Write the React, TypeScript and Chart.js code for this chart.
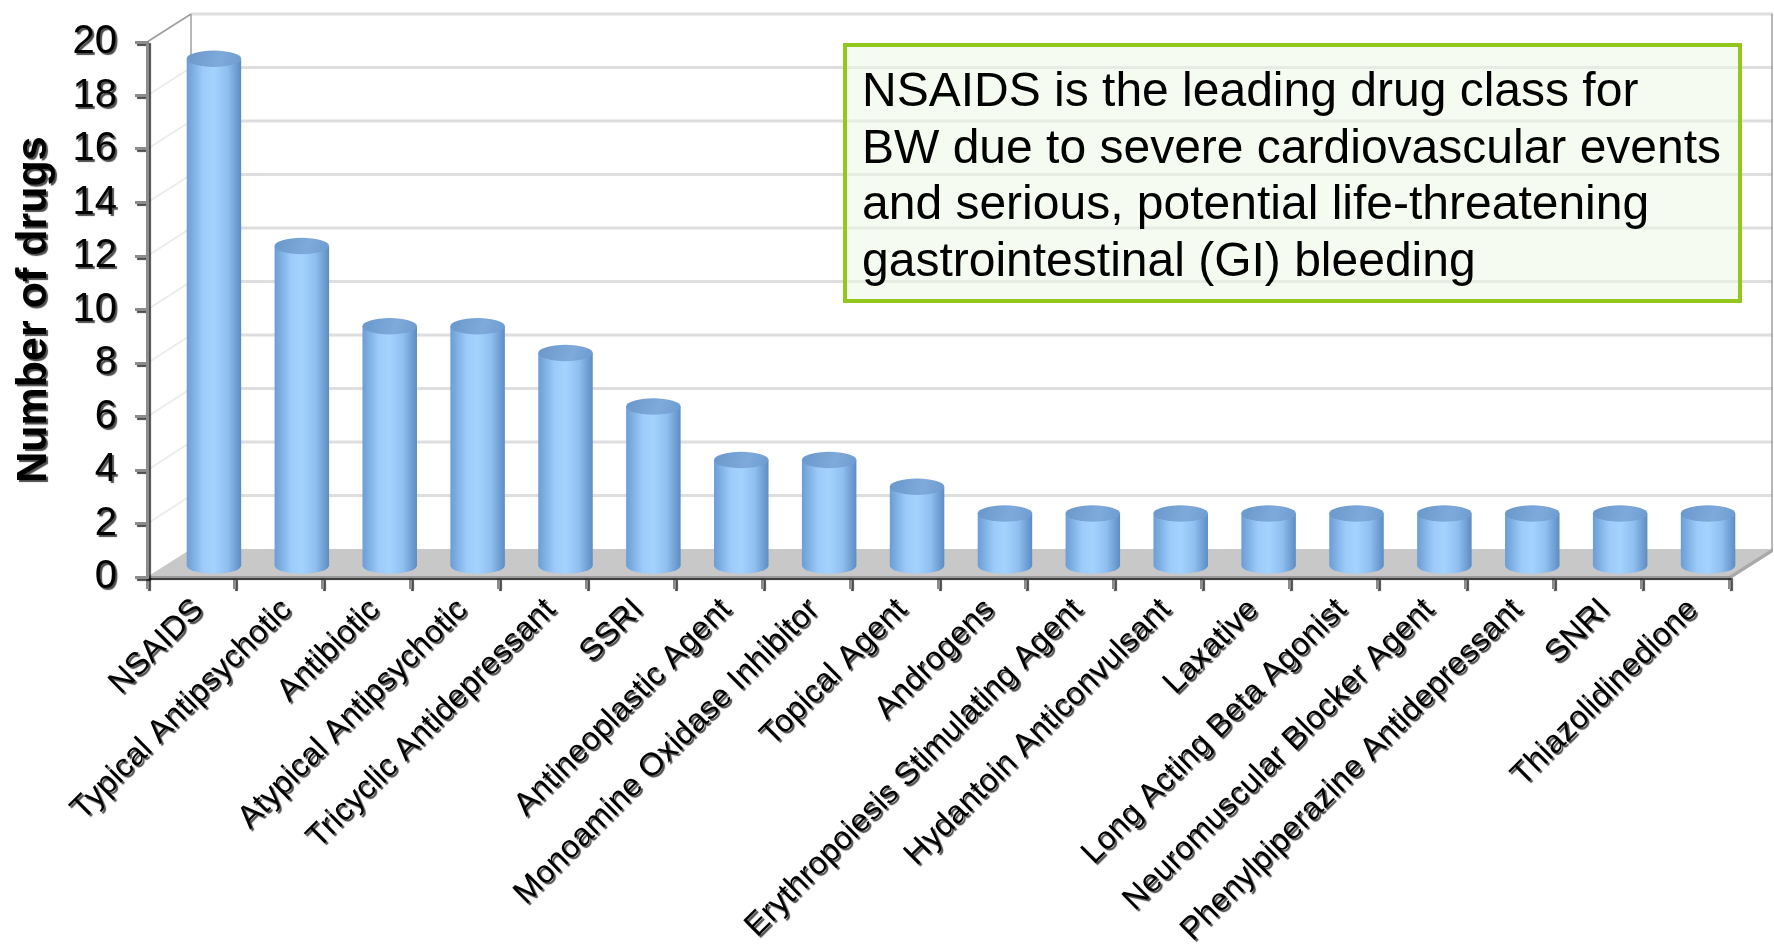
import React, { useEffect, useRef } from 'react';
import { Chart, registerables } from 'chart.js';

Chart.register(...registerables);

const categories = [
  'NSAIDS',
  'Typical Antipsychotic',
  'Antibiotic',
  'Atypical Antipsychotic',
  'Tricyclic Antidepressant',
  'SSRI',
  'Antineoplastic Agent',
  'Monoamine Oxidase Inhibitor',
  'Topical Agent',
  'Androgens',
  'Erythropoiesis Stimulating Agent',
  'Hydantoin Anticonvulsant',
  'Laxative',
  'Long Acting Beta Agonist',
  'Neuromuscular Blocker Agent',
  'Phenylpiperazine Antidepressant',
  'SNRI',
  'Thiazolidinedione',
];

const drugCounts = [19, 12, 9, 9, 8, 6, 4, 4, 3, 2, 2, 2, 2, 2, 2, 2, 2, 2];

const yTickValues = [0, 2, 4, 6, 8, 10, 12, 14, 16, 18, 20];
const yAxisTitle = 'Number of drugs';

const noteLines = [
  'NSAIDS is the leading drug class for',
  'BW due to severe cardiovascular events',
  'and serious, potential life-threatening',
  'gastrointestinal (GI) bleeding',
];

// 3D depth offsets (px)
const WALL_DX = 44;
const WALL_DY = -28;
const BAR_DX = 23;
const BAR_DY = -10;

const FONT = '"Liberation Sans", Arial, sans-serif';

const wallsPlugin = {
  id: 'walls3d',
  beforeDraw(chart: any) {
    const { ctx, chartArea: a, scales } = chart;
    const y = scales.y;
    ctx.save();
    yTickValues.forEach((v) => {
      const py = y.getPixelForValue(v);
      if (v > 0) {
        ctx.strokeStyle = '#dedede';
        ctx.lineWidth = 3;
        ctx.beginPath();
        ctx.moveTo(a.left + WALL_DX, py + WALL_DY);
        ctx.lineTo(a.right + WALL_DX, py + WALL_DY);
        ctx.stroke();
        ctx.strokeStyle = '#ececec';
        ctx.lineWidth = 2;
        ctx.beginPath();
        ctx.moveTo(a.left + 2, py - 1);
        ctx.lineTo(a.left + WALL_DX, py + WALL_DY);
        ctx.stroke();
      }
    });
    // floor
    ctx.fillStyle = '#c8c8c8';
    ctx.beginPath();
    ctx.moveTo(a.left, a.bottom);
    ctx.lineTo(a.right, a.bottom);
    ctx.lineTo(a.right + WALL_DX, a.bottom + WALL_DY);
    ctx.lineTo(a.left + WALL_DX, a.bottom + WALL_DY);
    ctx.closePath();
    ctx.fill();
    // floor front slab
    ctx.fillStyle = '#a9a9a9';
    ctx.fillRect(a.left, a.bottom - 1, a.right - a.left, 4);
    ctx.beginPath();
    ctx.moveTo(a.right, a.bottom - 1);
    ctx.lineTo(a.right + WALL_DX, a.bottom + WALL_DY - 1);
    ctx.lineTo(a.right + WALL_DX, a.bottom + WALL_DY + 3);
    ctx.lineTo(a.right, a.bottom + 3);
    ctx.closePath();
    ctx.fill();
    // wall edges
    const topBack = y.getPixelForValue(20) + WALL_DY;
    ctx.strokeStyle = '#a0a0a0';
    ctx.lineWidth = 1.5;
    ctx.beginPath();
    ctx.moveTo(a.left + WALL_DX, topBack);
    ctx.lineTo(a.left + WALL_DX, a.bottom + WALL_DY);
    ctx.moveTo(a.left, a.top);
    ctx.lineTo(a.left + WALL_DX, topBack);
    ctx.moveTo(a.right + WALL_DX - 1, topBack);
    ctx.lineTo(a.right + WALL_DX - 1, a.bottom + WALL_DY);
    ctx.stroke();
    ctx.restore();
    // shadow for axis texts
    ctx.shadowColor = 'rgba(0,0,0,0.7)';
    ctx.shadowOffsetX = 2;
    ctx.shadowOffsetY = 2;
    ctx.shadowBlur = 1;
  },
  beforeDatasetsDraw(chart: any) {
    const { ctx } = chart;
    ctx.shadowColor = 'rgba(0,0,0,0)';
    ctx.shadowOffsetX = 0;
    ctx.shadowOffsetY = 0;
    ctx.shadowBlur = 0;
  },
  afterDatasetsDraw(chart: any) {
    const { ctx } = chart;
    const meta = chart.getDatasetMeta(0);
    ctx.save();
    meta.data.forEach((bar: any) => {
      const p = bar.getProps(['x', 'y', 'base', 'width'], true);
      const cx = p.x + BAR_DX;
      const ty = p.y + BAR_DY;
      const by = p.base + BAR_DY;
      const rx = p.width / 2;
      const ry = p.width * 0.15;
      const g = ctx.createLinearGradient(cx - rx, 0, cx + rx, 0);
      g.addColorStop(0, '#6b9dd4');
      g.addColorStop(0.3, '#9ccbfa');
      g.addColorStop(0.5, '#a4d3ff');
      g.addColorStop(0.75, '#8fbfef');
      g.addColorStop(1, '#5c8cc3');
      ctx.fillStyle = g;
      ctx.beginPath();
      ctx.moveTo(cx - rx, ty);
      ctx.lineTo(cx - rx, by);
      ctx.ellipse(cx, by, rx, ry, 0, Math.PI, 0, true);
      ctx.lineTo(cx + rx, ty);
      ctx.closePath();
      ctx.fill();
      const tg = ctx.createLinearGradient(cx - rx, ty - ry, cx + rx, ty + ry);
      tg.addColorStop(0, '#6a97ca');
      tg.addColorStop(0.6, '#7eaadb');
      tg.addColorStop(1, '#6e9bd0');
      ctx.fillStyle = tg;
      ctx.beginPath();
      ctx.ellipse(cx, ty, rx, ry, 0, 0, Math.PI * 2);
      ctx.fill();
    });
    ctx.restore();
  },
};

export default function App() {
  const canvasRef = useRef<HTMLCanvasElement | null>(null);

  useEffect(() => {
    if (!canvasRef.current) return;
    Chart.defaults.font.family = FONT;
    const chart = new Chart(canvasRef.current, {
      type: 'bar',
      data: {
        labels: categories,
        datasets: [
          {
            label: yAxisTitle,
            data: drugCounts,
            backgroundColor: 'rgba(0,0,0,0)',
            borderWidth: 0,
            barPercentage: 0.62,
            categoryPercentage: 1,
          },
        ],
      },
      options: {
        animation: false,
        responsive: true,
        maintainAspectRatio: false,
        layout: { padding: { top: 40, right: 45, left: 0, bottom: 0 } },
        plugins: {
          legend: { display: false },
          tooltip: { enabled: false },
        },
        scales: {
          x: {
            grid: {
              display: true,
              drawOnChartArea: false,
              drawTicks: true,
              tickLength: 12,
              color: '#8c8c8c',
              lineWidth: 3,
              offset: true,
            },
            border: { display: true, color: '#9a9a9a', width: 2 },
            ticks: {
              autoSkip: false,
              maxRotation: 45,
              minRotation: 45,
              color: '#000',
              padding: 2,
              labelOffset: 8,
              font: { size: 32 },
            },
            afterFit: (scale: any) => {
              scale.height = 370;
            },
          },
          y: {
            min: 0,
            max: 20,
            grid: {
              display: true,
              drawOnChartArea: false,
              drawTicks: true,
              tickLength: 12,
              color: '#8c8c8c',
              lineWidth: 3,
            },
            border: { display: true, color: '#8c8c8c', width: 3 },
            ticks: {
              stepSize: 2,
              color: '#000',
              padding: 18,
              font: { size: 40 },
            },
            title: {
              display: true,
              text: yAxisTitle,
              color: '#000',
              font: { size: 43, weight: 'bold' },
              padding: { top: 8, bottom: 0 },
            },
            afterFit: (scale: any) => {
              scale.width = 147;
            },
          },
        },
      },
      plugins: [wallsPlugin],
    });
    return () => chart.destroy();
  }, []);

  return (
    <div style={{ position: 'absolute', left: 0, top: 0, width: 1774, height: 947, background: '#fff' }}>
      <canvas ref={canvasRef} />
      <div
        style={{
          position: 'absolute',
          left: 843,
          top: 43,
          width: 899,
          height: 260,
          boxSizing: 'border-box',
          border: '4px solid #92c81e',
          background: 'rgba(238,248,230,0.55)',
          paddingLeft: 15,
          paddingTop: 15,
          fontFamily: FONT,
          fontSize: 48,
          lineHeight: '56.5px',
          color: '#000',
          whiteSpace: 'nowrap',
        }}
      >
        {noteLines.map((line) => (
          <div key={line}>{line}</div>
        ))}
      </div>
    </div>
  );
}
